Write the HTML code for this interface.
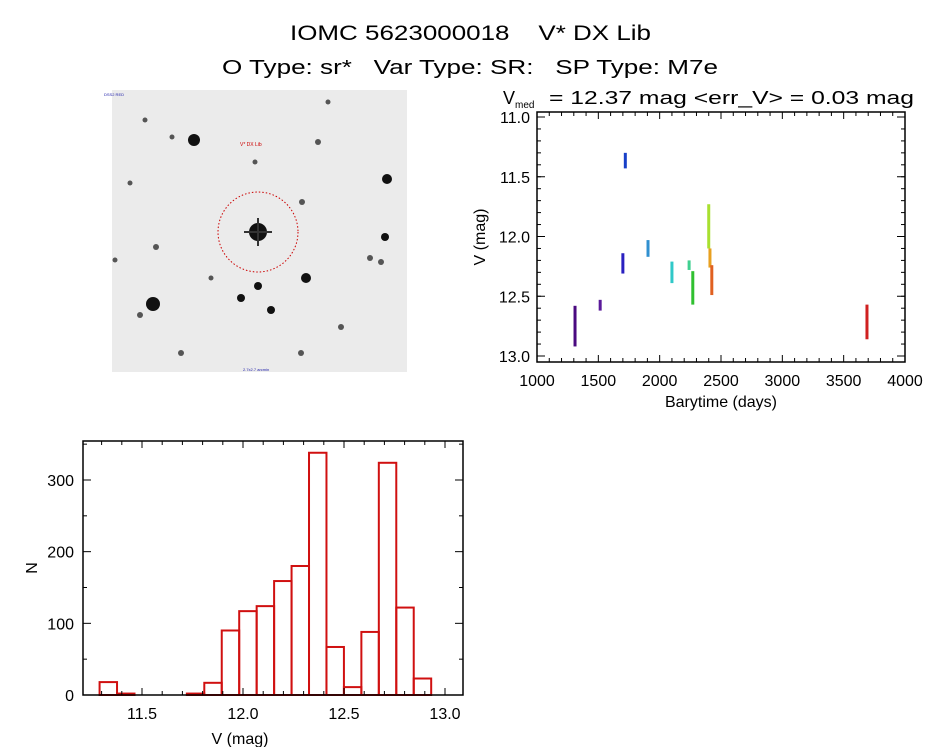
<!DOCTYPE html>
<html><head><meta charset="utf-8"><style>
html,body{margin:0;padding:0;background:#fff;}
svg{display:block;font-family:"Liberation Sans","DejaVu Sans",sans-serif;}
text{white-space:pre;}
</style></head><body>
<svg id="fig" width="944" height="747" viewBox="0 0 944 747">
<text x="290" y="40" font-size="21" textLength="361" lengthAdjust="spacingAndGlyphs">IOMC 5623000018    V* DX Lib</text>
<text x="222" y="74" font-size="20" textLength="496" lengthAdjust="spacingAndGlyphs">O Type: sr*   Var Type: SR:   SP Type: M7e</text>
<g id="sky">
<rect x="112" y="90" width="295" height="282" fill="#ebebeb"/>
</g>
<g id="lc"></g>
<g id="hist"></g>
</svg>
<script>
const NS="http://www.w3.org/2000/svg";
function mk(tag,attrs,parent,txt){const e=document.createElementNS(NS,tag);for(const k in attrs)e.setAttribute(k,attrs[k]);if(txt!==undefined)e.textContent=txt;parent.appendChild(e);return e;}

// sky image stars
const starX=[194,387,258,385,306,153,258,241,271,302,318,370,381,341,181,301,156,140,172,145,130,328,255,211,115];
const starY=[140,179,232,237,278,304,286,298,310,202,142,258,262,327,353,353,247,315,137,120,183,102,162,278,260];
const starR=[6,5,9,4,5,7,4,4,4,3,3,3,3,3,3,3,3,3,2.5,2.5,2.5,2.5,2.5,2.5,2.5];
const sky=document.getElementById('sky');
for(let i=0;i<starX.length;i++){
  const c=mk('circle',{cx:starX[i],cy:starY[i],r:starR[i],fill:starR[i]>3?'#111':'#555'},sky);
  
  
}
mk('path',{d:'M244 232h28M258 218v28',stroke:'#333','stroke-width':2},sky);
const circ=mk('circle',{cx:258,cy:232,r:40,fill:'none',stroke:'#c00','stroke-width':1,'stroke-dasharray':'1.5 2'},sky);


mk('text',{x:240,y:146,'font-size':5,fill:'#c00'},sky,'V* DX Lib');
mk('text',{x:104,y:96,'font-size':4,fill:'#22a'},sky,'DSS2 RED');
mk('text',{x:243,y:371,'font-size':4,fill:'#22a'},sky,'2.7x2.7 arcmin');

// light curve
const lcT=[1310,1515,1700,1720,1905,2100,2240,2270,2400,2410,2425,3690];
const lcMin=[12.58,12.53,12.14,11.30,12.03,12.21,12.20,12.29,11.73,12.10,12.24,12.57];
const lcMax=[12.92,12.62,12.31,11.43,12.17,12.39,12.28,12.57,12.10,12.26,12.49,12.86];
const lcCol=['#4a0a80','#5a1a9a','#2a20c0','#1840c8','#3090d0','#30c8c8','#40d090','#30c030','#a8e030','#e8a020','#e06020','#d02020'];
const xTicks=[1000,1500,2000,2500,3000,3500,4000];
const yTicks=[11.0,11.5,12.0,12.5,13.0];
const lcX=t=>537+(t-1000)*(905-537)/3000;
const lcY=v=>117+(v-11)*119.5;
const lc=document.getElementById('lc');
mk('text',{x:503,y:104,'font-size':18},lc,'V');
mk('text',{x:515,y:108,'font-size':10},lc,'med');
mk('text',{x:549,y:104,'font-size':18,textLength:365,lengthAdjust:'spacingAndGlyphs'},lc,'= 12.37 mag <err_V> = 0.03 mag');
for(let i=0;i<lcT.length;i++){
  const r=mk('rect',{x:lcX(lcT[i])-1.5,y:lcY(lcMin[i]),width:3,height:lcY(lcMax[i])-lcY(lcMin[i]),fill:lcCol[i]},lc);
  
  
}
mk('rect',{x:537,y:112,width:368,height:250,fill:'none',stroke:'#000','stroke-width':1.5},lc);
xTicks.forEach(t=>{const x=lcX(t);
  mk('line',{x1:x,y1:362,x2:x,y2:355,stroke:'#000'},lc);mk('line',{x1:x,y1:112,x2:x,y2:119,stroke:'#000'},lc);
  const tx=mk('text',{x:x,y:386,'font-size':16,'text-anchor':'middle'},lc,String(t));
  });
for(let t=1100;t<4000;t+=100){if(t%500){const x=lcX(t);mk('line',{x1:x,y1:362,x2:x,y2:358,stroke:'#000'},lc);mk('line',{x1:x,y1:112,x2:x,y2:116,stroke:'#000'},lc);}}
yTicks.forEach(v=>{const y=lcY(v);
  mk('line',{x1:537,y1:y,x2:545,y2:y,stroke:'#000'},lc);mk('line',{x1:905,y1:y,x2:897,y2:y,stroke:'#000'},lc);
  const tx=mk('text',{x:530,y:y+6,'font-size':16,'text-anchor':'end'},lc,v.toFixed(1));
  });
for(let v=11.1;v<13;v+=0.1){const y=lcY(v);mk('line',{x1:537,y1:y,x2:541,y2:y,stroke:'#000'},lc);mk('line',{x1:905,y1:y,x2:901,y2:y,stroke:'#000'},lc);}
mk('text',{x:721,y:407,'font-size':16,'text-anchor':'middle'},lc,'Barytime (days)');
mk('text',{x:485,y:237,'font-size':16,'text-anchor':'middle',transform:'rotate(-90 485 237)'},lc,'V (mag)');

// histogram
const binStart=11.29, binWidth=0.0864;
const counts=[18,2,0,0,0,2,17,90,117,124,159,180,338,67,11,88,324,122,23];
const hxTicks=[11.5,12.0,12.5,13.0];
const hyTicks=[0,100,200,300];
const hX=v=>142+(v-11.5)*202;
const hY=n=>695-n*0.7167;
const h=document.getElementById('hist');
counts.forEach((n,i)=>{
  const x0=hX(binStart+i*binWidth),x1=hX(binStart+(i+1)*binWidth);
  const r=mk('rect',{x:x0,y:hY(n),width:x1-x0,height:695-hY(n),fill:'none',stroke:'#d01010','stroke-width':2},h);
  
  
});
mk('rect',{x:83,y:441,width:380,height:254,fill:'none',stroke:'#000','stroke-width':1.5},h);
hxTicks.forEach(v=>{const x=hX(v);
  mk('line',{x1:x,y1:695,x2:x,y2:688,stroke:'#000'},h);mk('line',{x1:x,y1:441,x2:x,y2:448,stroke:'#000'},h);
  const tx=mk('text',{x:x,y:719,'font-size':16,'text-anchor':'middle'},h,v.toFixed(1));
  });
for(let v=11.3;v<13.05;v+=0.1){const x=hX(v);mk('line',{x1:x,y1:695,x2:x,y2:691,stroke:'#000'},h);mk('line',{x1:x,y1:441,x2:x,y2:445,stroke:'#000'},h);}
hyTicks.forEach(n=>{const y=hY(n);
  mk('line',{x1:83,y1:y,x2:91,y2:y,stroke:'#000'},h);mk('line',{x1:463,y1:y,x2:455,y2:y,stroke:'#000'},h);
  const tx=mk('text',{x:74,y:y+6,'font-size':16,'text-anchor':'end'},h,String(n));
  });
for(let n=50;n<354;n+=100){const y=hY(n);mk('line',{x1:83,y1:y,x2:87,y2:y,stroke:'#000'},h);mk('line',{x1:463,y1:y,x2:459,y2:y,stroke:'#000'},h);}
mk('text',{x:240,y:744,'font-size':16,'text-anchor':'middle'},h,'V (mag)');
mk('text',{x:37,y:568,'font-size':16,'text-anchor':'middle',transform:'rotate(-90 37 568)'},h,'N');
</script>
</body></html>
